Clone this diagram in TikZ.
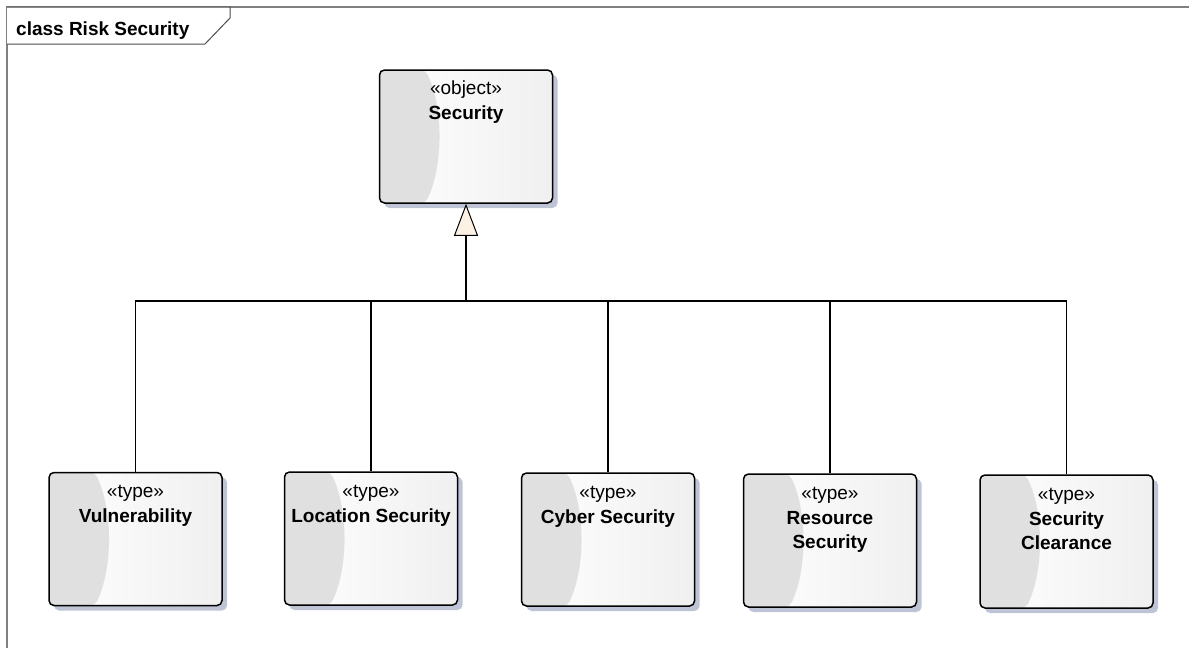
\documentclass[tikz,border=0pt]{standalone}
\usepackage{fontspec}
\setmainfont{Liberation Sans}
\usetikzlibrary{calc}
\usetikzlibrary{shadows}
\usetikzlibrary{arrows.meta}
\definecolor{shadowblue}{RGB}{190,196,214}
\definecolor{crescent}{RGB}{224,224,224}
\definecolor{cream}{RGB}{252,242,228}
\definecolor{framegray}{RGB}{128,128,128}

\begin{document}
\begin{tikzpicture}[x=1pt,y=-1pt,
	classbox/.style={draw=black,line width=1.5pt,rounded corners=5pt,
		minimum width=173pt,minimum height=133pt,inner sep=0pt,
		left color=white,right color=gray!12,
		drop shadow={shadow xshift=5pt,shadow yshift=-5pt,fill=shadowblue,opacity=1},
		path picture={
			\fill[crescent] (path picture bounding box.north west)
				-- ($(path picture bounding box.north west)+(46,0)$)
				.. controls ($(path picture bounding box.north west)+(64,38)$)
				and ($(path picture bounding box.south west)+(64,-38)$)
				.. ($(path picture bounding box.south west)+(46,0)$)
				-- (path picture bounding box.south west) -- cycle;
		}},
	stereo/.style={anchor=base,inner sep=0pt,font=\fontsize{19}{24.5}\selectfont},
	classname/.style={anchor=base,inner sep=0pt,align=center,font=\bfseries\fontsize{19}{24.5}\selectfont},
	generalize/.style={line width=1.2pt,-{Triangle[fill=cream,length=32pt,width=24pt,line width=1pt]}}]
	\useasboundingbox (0,0) rectangle (1189,648);
	% diagram frame
	\draw[framegray,line width=2pt] (7,648) -- (7,7) -- (1189,7);
	\draw[black!70,line width=1pt,fill=white] (7,7) -- (230,7) -- (230,18) -- (205,44) -- (7,44);
	\node[anchor=base west,inner sep=0pt,font=\bfseries\fontsize{19}{24}\selectfont] (title) at (16,35) {class Risk Security};
	% parent
	\node[classbox] (security) at (466,136.5) {};
	\node[stereo] (security-st) at ($(security.north)+(0,25)$) {«object»};
	\node[classname] (security-nm) at ($(security.north)+(0,50)$) {Security};
	% children (base of a two-line name is its last line)
	\node[classbox] (vuln) at (135.5,539) {};
	\node[stereo] (vuln-st) at ($(vuln.north)+(0,26)$) {«type»};
	\node[classname] (vuln-nm) at ($(vuln.north)+(0,51)$) {Vulnerability};
	\node[classbox] (locsec) at (371,538.5) {};
	\node[stereo] (locsec-st) at ($(locsec.north)+(0,26)$) {«type»};
	\node[classname] (locsec-nm) at ($(locsec.north)+(0,51)$) {Location Security};
	\node[classbox] (cybsec) at (608,539.5) {};
	\node[stereo] (cybsec-st) at ($(cybsec.north)+(0,26)$) {«type»};
	\node[classname] (cybsec-nm) at ($(cybsec.north)+(0,51)$) {Cyber Security};
	\node[classbox] (ressec) at (830,540.5) {};
	\node[stereo] (ressec-st) at ($(ressec.north)+(0,26)$) {«type»};
	\node[classname] (ressec-nm) at ($(ressec.north)+(0,75.5)$) {Resource\\Security};
	\node[classbox] (secclr) at (1066.5,541.5) {};
	\node[stereo] (secclr-st) at ($(secclr.north)+(0,26)$) {«type»};
	\node[classname] (secclr-nm) at ($(secclr.north)+(0,75.5)$) {Security\\Clearance};
	% generalization
	\coordinate (bus) at (security.south |- 0,301);
	\draw[generalize] (bus) -- (security.south);
	\foreach \child in {vuln,locsec,cybsec,ressec,secclr}
		\draw[line width=1.2pt] (\child.north) |- (bus);
\end{tikzpicture}
\end{document}
